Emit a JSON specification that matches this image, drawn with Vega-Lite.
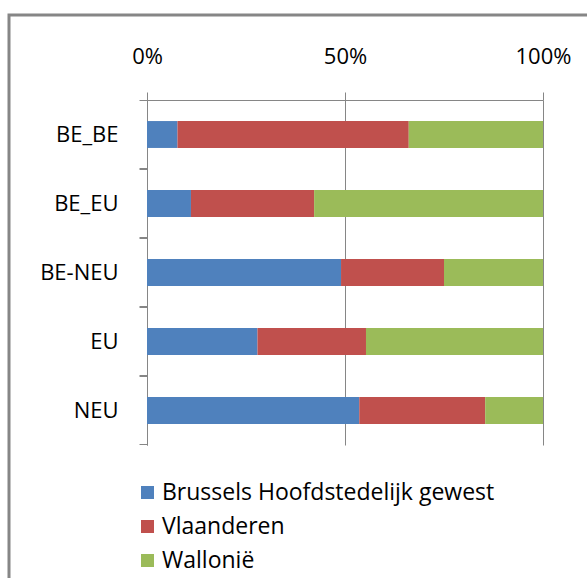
{
  "$schema": "https://vega.github.io/schema/vega-lite/v6.json",
  "autosize": {"type": "none"},
  "padding": {"left": 9, "top": 15, "right": 0, "bottom": 0},
  "width": 640,
  "height": 640,
  "background": "white",
  "config": {
    "view": {"stroke": "#868686", "strokeWidth": 3},
    "font": "Open Sans",
    "axis": {
      "domainColor": "#868686",
      "tickColor": "#868686",
      "gridColor": "#868686",
      "labelColor": "black",
      "labelFontSize": 22,
      "tickSize": 8,
      "title": null
    }
  },
  "data": {
    "values": [
      {"origin": "BE_BE", "region": "Brussels Hoofdstedelijk gewest", "share": 7.7},
      {"origin": "BE_BE", "region": "Vlaanderen", "share": 58.4},
      {"origin": "BE_BE", "region": "Wallonië", "share": 33.9},
      {"origin": "BE_EU", "region": "Brussels Hoofdstedelijk gewest", "share": 11.1},
      {"origin": "BE_EU", "region": "Vlaanderen", "share": 31.1},
      {"origin": "BE_EU", "region": "Wallonië", "share": 57.8},
      {"origin": "BE-NEU", "region": "Brussels Hoofdstedelijk gewest", "share": 49.0},
      {"origin": "BE-NEU", "region": "Vlaanderen", "share": 26.0},
      {"origin": "BE-NEU", "region": "Wallonië", "share": 25.0},
      {"origin": "EU", "region": "Brussels Hoofdstedelijk gewest", "share": 27.9},
      {"origin": "EU", "region": "Vlaanderen", "share": 27.4},
      {"origin": "EU", "region": "Wallonië", "share": 44.7},
      {"origin": "NEU", "region": "Brussels Hoofdstedelijk gewest", "share": 53.6},
      {"origin": "NEU", "region": "Vlaanderen", "share": 31.8},
      {"origin": "NEU", "region": "Wallonië", "share": 14.6}
    ]
  },
  "layer": [
    {
      "mark": {"type": "bar"},
      "encoding": {
        "y": {
          "field": "origin",
          "type": "nominal",
          "sort": ["BE_BE", "BE_EU", "BE-NEU", "EU", "NEU"],
          "scale": {"range": [85, 430], "paddingInner": 0.61, "paddingOuter": 0.305},
          "axis": {"orient": "left", "offset": -138, "bandPosition": -0.782, "labelPadding": 21}
        },
        "x": {
          "field": "share",
          "type": "quantitative",
          "stack": "normalize",
          "scale": {"range": [138, 534], "domain": [0, 1], "nice": false},
          "axis": {"orient": "top", "offset": -85, "values": [0, 0.5, 1], "format": "%", "grid": true, "labelPadding": 24, "labelFlush": false}
        },
        "color": {
          "field": "region",
          "type": "nominal",
          "sort": ["Brussels Hoofdstedelijk gewest", "Vlaanderen", "Wallonië"],
          "scale": {"range": ["#4F81BD", "#C0504D", "#9BBB59"]},
          "legend": {
            "orient": "none",
            "legendX": 127,
            "legendY": 466,
            "title": null,
            "symbolType": "square",
            "symbolSize": 169,
            "symbolStrokeWidth": 0,
            "labelFontSize": 23,
            "labelColor": "black",
            "labelOffset": 3,
            "labelLimit": 0,
            "rowPadding": 10,
            "padding": 0,
            "direction": "vertical"
          }
        }
      }
    },
    {
      "mark": {"type": "bar", "opacity": 0},
      "encoding": {
        "y": {
          "field": "origin",
          "type": "nominal",
          "sort": ["BE_BE", "BE_EU", "BE-NEU", "EU", "NEU"],
          "axis": {"orient": "left", "offset": -138, "bandPosition": 1.782, "labels": false, "domain": false}
        },
        "x": {
          "field": "share",
          "type": "quantitative",
          "stack": "normalize"
        }
      }
    }
  ],
  "resolve": {"axis": {"y": "independent"}}
}
